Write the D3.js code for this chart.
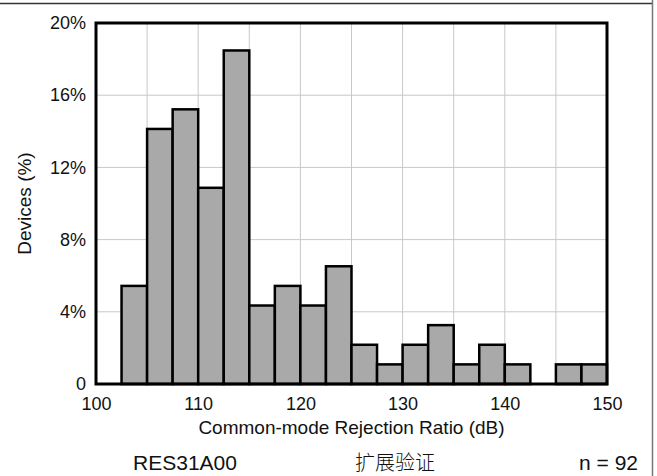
<!DOCTYPE html>
<html>
<head>
<meta charset="utf-8">
<script src="https://cdn.jsdelivr.net/npm/d3@7"></script>
<style>
html,body{margin:0;padding:0;background:#fff;}
svg{display:block;}
text{font-family:"Liberation Sans",Arial,sans-serif;fill:#111;}
</style>
</head>
<body>
<script>
// Histogram bins (dB), bin width 2.5
const binStarts = [102.5,105,107.5,110,112.5,115,117.5,120,122.5,125,127.5,130,132.5,135,137.5,140,142.5,145,147.5];
const binCounts = [5,13,14,10,17,4,5,4,6,2,1,2,3,1,2,1,0,1,1];
const totalN = 92;
const binWidth = 2.5;
const xTicks = [100,110,120,130,140,150];
const xGrid = [105,110,115,120,125,130,135,140,145];
const yTicks = [0,4,8,12,16,20];
const yTickLabels = ["0","4%","8%","12%","16%","20%"];
const xTitle = "Common-mode Rejection Ratio (dB)";
const yTitle = "Devices (%)";
const footer = ["RES31A00","扩展验证","n = 92"];

const W = 657, H = 476;
const m = {left:96, right:607, top:23, bottom:384};
const svg = d3.select("body").append("svg").attr("width",W).attr("height",H);

const x = d3.scaleLinear().domain([100,150]).range([m.left,m.right]);
const y = d3.scaleLinear().domain([0,20]).range([m.bottom,m.top]);

// outer frame lines (top and right)
svg.append("line").attr("x1",0).attr("x2",653).attr("y1",3.5).attr("y2",3.5).attr("stroke","#333").attr("stroke-width",1.5);
svg.append("line").attr("x1",652.5).attr("x2",652.5).attr("y1",0).attr("y2",H).attr("stroke","#777").attr("stroke-width",1.5);

// grid
const g = svg.append("g");
g.selectAll("line.vg").data(xGrid).join("line")
  .attr("x1",d=>x(d)).attr("x2",d=>x(d)).attr("y1",m.top).attr("y2",m.bottom)
  .attr("stroke","#c8c8c8").attr("stroke-width",1);
g.selectAll("line.hg").data(yTicks.slice(1,-1)).join("line")
  .attr("x1",m.left).attr("x2",m.right).attr("y1",d=>y(d)).attr("y2",d=>y(d))
  .attr("stroke","#c8c8c8").attr("stroke-width",1);

// bars
svg.append("g").selectAll("rect").data(binStarts.map((s,i)=>({s,v:binCounts[i]/totalN*100})).filter(d=>d.v>0))
  .join("rect")
  .attr("x",d=>x(d.s)).attr("width",d=>x(d.s+binWidth)-x(d.s))
  .attr("y",d=>y(d.v)).attr("height",d=>y(0)-y(d.v))
  .attr("fill","#a9a9a9").attr("stroke","#000").attr("stroke-width",2.5);

// frame
svg.append("rect").attr("x",m.left).attr("y",m.top).attr("width",m.right-m.left).attr("height",m.bottom-m.top)
  .attr("fill","none").attr("stroke","#000").attr("stroke-width",3);

// axes
const yAxis = d3.axisLeft(y).tickValues(yTicks).tickSize(0).tickPadding(10)
  .tickFormat((d,i)=>yTickLabels[i]);
const ya = svg.append("g").attr("transform",`translate(${m.left},0)`).call(yAxis);
ya.select(".domain").remove();
ya.selectAll("text").style("font-size","18px").style("font-family","'Liberation Sans',Arial,sans-serif").attr("fill","#111");

const xAxis = d3.axisBottom(x).tickValues(xTicks).tickSize(0).tickPadding(13).tickFormat(d3.format("d"));
const xa = svg.append("g").attr("transform",`translate(0,${m.bottom})`).call(xAxis);
xa.select(".domain").remove();
xa.selectAll("text").style("font-size","18px").style("font-family","'Liberation Sans',Arial,sans-serif").attr("fill","#111");

svg.append("text").attr("x",(m.left+m.right)/2).attr("y",434).attr("text-anchor","middle")
  .style("font-size","19px").text(xTitle);
svg.append("text").attr("transform",`translate(31,${(m.top+m.bottom)/2}) rotate(-90)`).attr("text-anchor","middle")
  .style("font-size","19px").text(yTitle);

// footer
svg.append("text").attr("x",185).attr("y",470).attr("text-anchor","middle").style("font-size","21px").text(footer[0]);
svg.append("text").attr("x",395).attr("y",470).attr("text-anchor","middle")
  .style("font-family","'Noto Sans CJK SC',sans-serif").style("font-size","20px").style("font-weight","300").attr("fill","#333").text(footer[1]);
svg.append("text").attr("x",638).attr("y",470).attr("text-anchor","end").style("font-size","21px").text(footer[2]);
</script>
</body>
</html>
